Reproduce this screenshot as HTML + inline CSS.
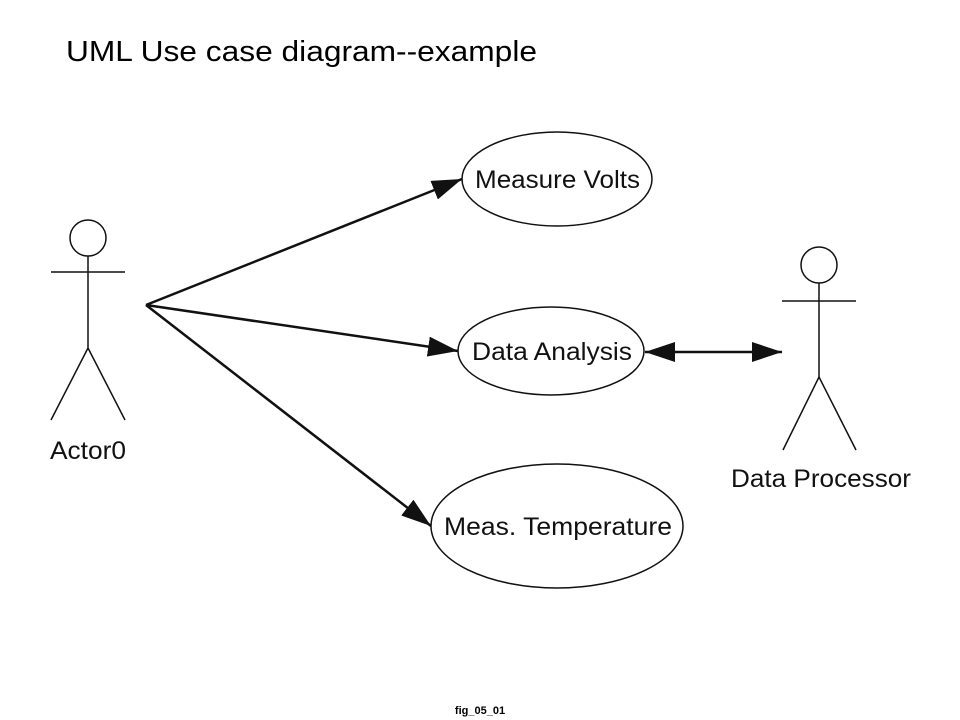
<!DOCTYPE html>
<html><head><style>
html,body{margin:0;padding:0;background:#fff;width:960px;height:720px;overflow:hidden}
</style></head><body>
<svg width="960" height="720" xmlns="http://www.w3.org/2000/svg" font-family="Liberation Sans, sans-serif">
<defs>
<marker id="b" viewBox="0 0 30 20" markerWidth="30" markerHeight="20" refX="30" refY="10" orient="auto" markerUnits="userSpaceOnUse">
<path d="M0,0 L30,10 L0,20 Z" fill="#111"/></marker>
<marker id="c" viewBox="0 0 30 20" markerWidth="30" markerHeight="20" refX="0" refY="10" orient="auto" markerUnits="userSpaceOnUse">
<path d="M30,0 L0,10 L30,20 Z" fill="#111"/></marker>
</defs>
<text x="66" y="61" font-size="29" fill="#000" textLength="471" lengthAdjust="spacingAndGlyphs">UML Use case diagram--example</text>
<g stroke="#111" stroke-width="1.5" fill="none">
<circle cx="88" cy="238" r="18"/>
<line x1="51" y1="272" x2="125" y2="272"/>
<line x1="88" y1="256" x2="88" y2="348"/>
<line x1="88" y1="348" x2="51" y2="420"/>
<line x1="88" y1="348" x2="125" y2="420"/>
<circle cx="819" cy="265" r="18"/>
<line x1="782" y1="301" x2="856" y2="301"/>
<line x1="819" y1="283" x2="819" y2="377"/>
<line x1="819" y1="377" x2="783" y2="450"/>
<line x1="819" y1="377" x2="856" y2="450"/>
<ellipse cx="557" cy="179" rx="95" ry="47"/>
<ellipse cx="551" cy="351" rx="93" ry="44"/>
<ellipse cx="557" cy="526" rx="126" ry="62"/>
</g>
<g stroke="#111" stroke-width="2.5" fill="none">
<line x1="146" y1="305" x2="462" y2="179" marker-end="url(#b)"/>
<line x1="146" y1="305" x2="458" y2="351" marker-end="url(#b)"/>
<line x1="146" y1="305" x2="431" y2="526" marker-end="url(#b)"/>
<line x1="645" y1="352" x2="782" y2="352" marker-start="url(#c)" marker-end="url(#b)"/>
</g>
<g font-size="25" fill="#111" lengthAdjust="spacingAndGlyphs">
<text x="475" y="188" textLength="165" lengthAdjust="spacingAndGlyphs">Measure Volts</text>
<text x="472" y="360" textLength="160" lengthAdjust="spacingAndGlyphs">Data Analysis</text>
<text x="444" y="535" textLength="228" lengthAdjust="spacingAndGlyphs">Meas. Temperature</text>
<text x="50" y="459" textLength="76" lengthAdjust="spacingAndGlyphs">Actor0</text>
<text x="731" y="487" textLength="180" lengthAdjust="spacingAndGlyphs">Data Processor</text>
</g>
<text x="480" y="714" font-size="11" font-weight="bold" text-anchor="middle">fig_05_01</text>
</svg>
</body></html>
